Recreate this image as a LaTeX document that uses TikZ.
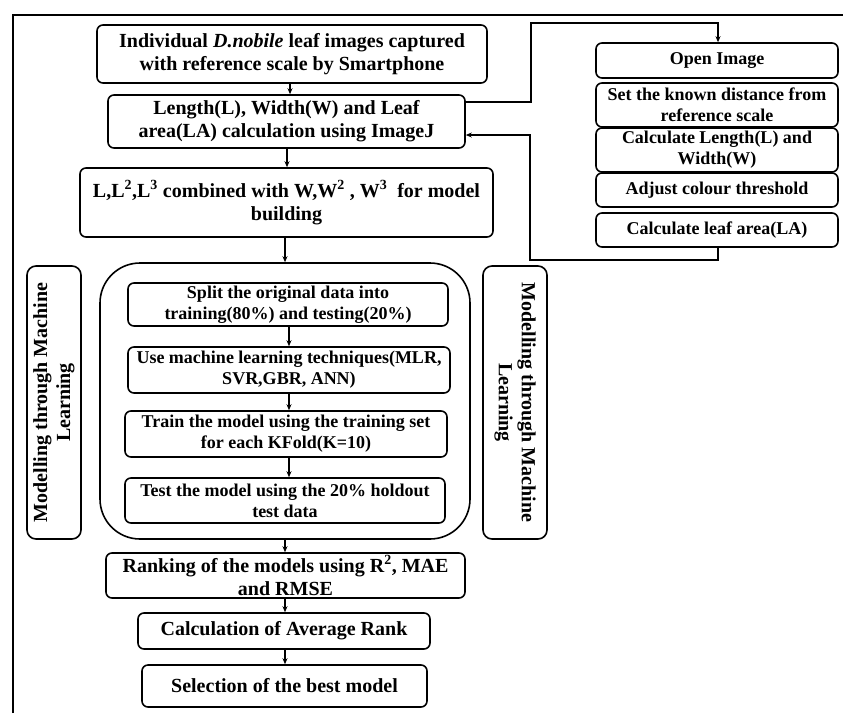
\documentclass[tikz,border=0pt]{standalone}
\usepackage{fontspec}
\setmainfont{Liberation Serif}
\usetikzlibrary{arrows.meta,calc}
\begin{document}
\begin{tikzpicture}[x=1pt,y=-1pt,
  box/.style={draw, line width=1.6pt, rounded corners=6pt, align=center, inner sep=0pt,
    font=\bfseries\fontsize{20}{23}\selectfont},
  sbox/.style={box, font=\bfseries\fontsize{18}{21}\selectfont},
  mlbox/.style={box, rounded corners=9pt},
  bigbox/.style={draw, line width=1.6pt, rounded corners=40pt},
  arr/.style={line width=1.6pt, -{Stealth[length=6pt,width=5pt]}},
  wire/.style={line width=1.8pt}]
\useasboundingbox (0,0) rectangle (843,713);
% frame
\coordinate (fa) at (13,713);
\coordinate (fb) at (13,15);
\coordinate (fc) at (843,15);
\draw[wire] (fa) -- (fb) -- (fc);
% left column
\node[box, minimum width=390pt, minimum height=58pt] (b1) at (292,54)
  {Individual \textit{D.nobile} leaf images captured\\with reference scale by Smartphone};
\node[box, minimum width=357pt, minimum height=53pt] (b2) at (286.5,121.5)
  {Length(L), Width(W) and Leaf\\area(LA) calculation using ImageJ};
\node[box, minimum width=413pt, minimum height=69pt] (b3) at (286.5,202.5)
  {L,L\textsuperscript{2},L\textsuperscript{3} combined with W,W\textsuperscript{2} , W\textsuperscript{3}\ \ for model\\building};
\node[bigbox, minimum width=370pt, minimum height=276pt] (big) at (285,401) {};
\node[sbox, minimum width=320pt, minimum height=43pt] (split) at (288,304.5)
  {Split the original data into\\training(80\%) and testing(20\%)};
\node[sbox, minimum width=322pt, minimum height=46pt] (useml) at (289,370)
  {Use machine learning techniques(MLR,\\SVR,GBR, ANN)};
\node[sbox, minimum width=322pt, minimum height=46pt] (train) at (286,434)
  {Train the model using the training set\\for each KFold(K=10)};
\node[sbox, minimum width=320pt, minimum height=45pt] (test) at (285,500.5)
  {Test the model using the 20\% holdout\\test data};
\node[box, minimum width=359pt, minimum height=45pt] (rank) at (285.5,575.5)
  {Ranking of the models using R\textsuperscript{2}, MAE\\and RMSE};
\node[box, minimum width=292pt, minimum height=36pt] (avg) at (284,631)
  {Calculation of Average Rank};
\node[box, minimum width=285pt, minimum height=42pt] (sel) at (284.5,686)
  {Selection of the best model};
% side labels
\node[mlbox, rotate=90, minimum width=273pt, minimum height=54pt] (mlL) at (54,402.5)
  {Modelling through Machine\\Learning};
\node[mlbox, rotate=-90, minimum width=273pt, minimum height=64pt] (mlR) at (515,402.5)
  {Modelling through Machine\\Learning};
% right column
\node[sbox, minimum width=242pt, minimum height=35pt] (open) at (717,60.5) {Open Image};
\node[sbox, minimum width=242pt, minimum height=44pt] (setd) at (717,105)
  {Set the known distance from\\reference scale};
\node[sbox, minimum width=242pt, minimum height=44pt] (calclw) at (717,150)
  {Calculate Length(L) and\\Width(W)};
\node[sbox, minimum width=242pt, minimum height=34pt] (adj) at (717,190)
  {Adjust colour threshold};
\node[sbox, minimum width=242pt, minimum height=34pt] (leaf) at (717,230)
  {Calculate leaf area(LA)};
% column coordinates
\coordinate (cA) at (290,0);
\coordinate (cB) at (287,0);
\coordinate (cC) at (285,0);
\coordinate (cD) at (289,0);
% vertical flow
\draw[arr] (b1.south -| cA) -- (b2.north -| cA);
\draw[arr] (b2.south -| cB) -- (b3.north -| cB);
\draw[arr] (b3.south -| cC) -- (big.north -| cC);
\draw[arr] (split.south -| cD) -- (useml.north -| cD);
\draw[arr] (useml.south -| cD) -- (train.north -| cD);
\draw[arr] (train.south -| cD) -- (test.north -| cD);
\draw[arr] (big.south -| cC) -- (rank.north -| cC);
\draw[arr] (rank.south -| cC) -- (avg.north -| cC);
\draw[arr] (avg.south -| cC) -- (sel.north -| cC);
% ImageJ loop
\coordinate (o1) at (531,102);
\coordinate (o2) at (531,23);
\coordinate (o3) at (718,23);
\draw[arr] (b2.east |- o1) -- (o1) -- (o2) -- (o3) -- (open.north -| o3);
\coordinate (r1) at (718,260);
\coordinate (r2) at (530,260);
\coordinate (r3) at (530,135);
\draw[arr] (leaf.south -| r1) -- (r1) -- (r2) -- (r3) -- (b2.east |- r3);
\end{tikzpicture}
\end{document}
